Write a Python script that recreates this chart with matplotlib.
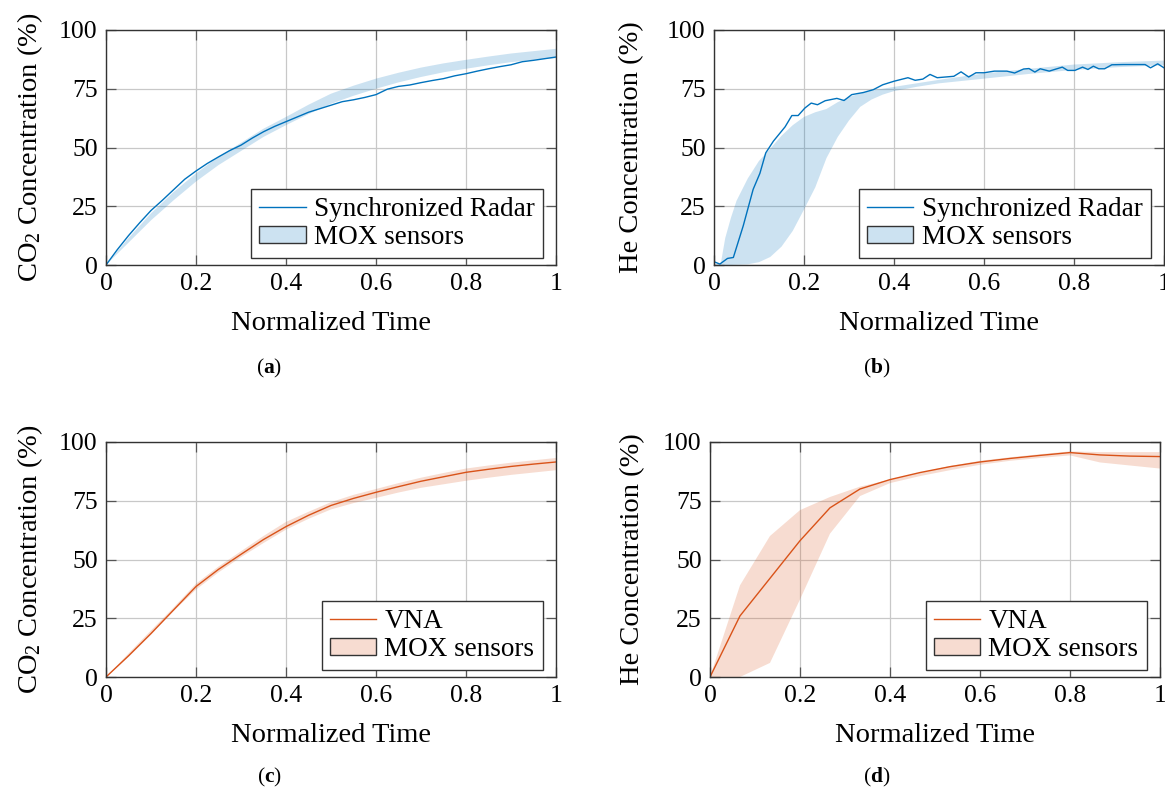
import matplotlib
matplotlib.use("Agg")
import matplotlib.pyplot as plt
from matplotlib.lines import Line2D
import numpy as np

plt.rcParams['font.family'] = ['Liberation Serif', 'DejaVu Serif']
plt.rcParams['mathtext.fontset'] = 'custom'
plt.rcParams['mathtext.rm'] = 'Liberation Serif'
plt.rcParams['mathtext.it'] = 'Liberation Serif:italic'
plt.rcParams['mathtext.bf'] = 'Liberation Serif:bold'

BLUE = '#0072BD'
ORANGE = '#D95319'

# ---- (a) CO2, synchronized radar ----
t_radar_co2 = np.arange(0, 1.0001, 0.025)
radar_co2 = [0, 6.5, 12.5, 18, 23.2, 27.5, 32, 36.5, 40, 43.2, 46, 48.7, 51,
             54, 56.7, 59, 61, 63, 65, 66.5, 68, 69.5, 70.3, 71.3, 72.5, 74.8,
             76, 76.6, 77.6, 78.5, 79.3, 80.5, 81.4, 82.5, 83.5, 84.4, 85.2,
             86.5, 87.1, 87.8, 88.5]
t_mox_co2_a = np.arange(0, 1.0001, 0.05)
mox_co2_a_lo = [0, 9.5, 19, 27.5, 35.5, 42.5, 48.5, 54.5, 59.5, 64.2, 68.6,
                72, 75, 77.7, 80, 82, 83.5, 85, 86.3, 87.3, 88]
mox_co2_a_hi = [0, 11.5, 22, 31, 39, 46, 52, 58, 63, 68.2, 72.9, 76.3, 79.3,
                81.8, 84, 85.8, 87.3, 88.7, 90, 91, 92]

# ---- (b) He, synchronized radar ----
t_radar_he = [0, 0.013, 0.03, 0.043, 0.065, 0.087, 0.102, 0.115, 0.132, 0.158,
              0.173, 0.187, 0.202, 0.216, 0.23, 0.247, 0.273, 0.289, 0.306,
              0.332, 0.354, 0.375, 0.4, 0.431, 0.447, 0.464, 0.48, 0.496,
              0.533, 0.549, 0.566, 0.582, 0.6, 0.623, 0.651, 0.668, 0.688,
              0.7, 0.713, 0.725, 0.745, 0.762, 0.774, 0.786, 0.802, 0.819,
              0.831, 0.843, 0.855, 0.868, 0.884, 0.909, 0.958, 0.97, 0.986, 1.0]
radar_he = [1.4, 0.4, 2.8, 3.2, 16.7, 32.2, 39, 47.7, 52.7, 58.8, 63.6, 63.6,
            66.8, 68.9, 68.2, 69.9, 70.9, 70, 72.5, 73.4, 74.6, 76.7, 78.2,
            79.7, 78.6, 79.1, 81.1, 79.7, 80.3, 82.2, 80, 81.8, 81.8, 82.5,
            82.5, 81.7, 83.4, 83.6, 82.1, 83.5, 82.5, 83.5, 84.2, 82.8, 82.8,
            84.2, 83.2, 84.6, 83.5, 83.5, 85.2, 85.3, 85.3, 83.9, 85.6, 83.9]
t_mox_he_b = [0, 0.015, 0.025, 0.0375, 0.05, 0.075, 0.1, 0.125, 0.15, 0.175,
              0.2, 0.225, 0.25, 0.275, 0.3, 0.325, 0.35, 0.375, 0.4, 0.45,
              0.5, 0.6, 0.7, 0.8, 0.9, 1.0]
mox_he_b_lo = [0, 0, 0, 0, 0.1, 0.3, 1.2, 3.4, 7.8, 14.5, 23.6, 33, 45.5,
               54.5, 61.5, 67.3, 70.4, 72.5, 74, 75.8, 77.3, 79.3, 81.3, 83,
               84.2, 85]
mox_he_b_hi = [0, 0.5, 11.5, 20, 27.3, 36.8, 44.3, 49.5, 55, 59.5, 63, 65,
               66.4, 69.3, 71.5, 73, 74.2, 75, 75.8, 77.3, 78.8, 81.5, 83.5,
               85.3, 86.3, 87]

# ---- (c) CO2, VNA ----
t_vna_co2 = np.arange(0, 1.0001, 0.05)
vna_co2 = [0, 9, 18.5, 28.5, 38.5, 45.8, 52.2, 58.5, 64, 68.8, 73, 76, 78.6,
           81, 83.3, 85.2, 87.1, 88.4, 89.6, 90.6, 91.5]
mox_co2_c_lo = [0, 8.5, 18, 28, 37.2, 44.5, 51, 57, 62.7, 67.3, 71.3, 74,
                76.2, 78.5, 80.5, 82, 83.5, 84.8, 86, 87, 88]
mox_co2_c_hi = [0, 10, 19.8, 29.5, 39.7, 47, 53.5, 60, 66, 70.3, 74.4, 77.5,
                80, 82.5, 84.8, 86.8, 88.7, 90, 91.2, 92.2, 93.2]

# ---- (d) He, VNA ----
t_vna_he = np.linspace(0, 1, 16)
vna_he = [0, 26, 42, 58, 72, 80, 84, 87, 89.5, 91.5, 93, 94.3, 95.5, 94.5,
          94, 93.8]
mox_he_d_lo = [0, 0, 6, 33, 61, 77, 82.5, 85.5, 88, 90.3, 92, 93.2, 94.3,
               91.3, 90, 88.7]
mox_he_d_hi = [0, 39, 60, 71, 76.6, 81, 84, 87, 89.8, 92, 93.5, 94.8, 96,
               95.7, 95.7, 95.7]

x_ticks = [0, 0.2, 0.4, 0.6, 0.8, 1]
x_ticklabels = ['0', '0.2', '0.4', '0.6', '0.8', '1']
y_ticks = [0, 25, 50, 75, 100]

FS_TICK = 18.5
FS_LABEL = 20.5
FS_LEG = 19.5
W, H = 1165, 792


def style_axes(ax, ylabel, ylab_x):
    ax.set_xlim(0, 1)
    ax.set_ylim(0, 100)
    ax.set_xticks(x_ticks)
    ax.set_xticklabels(x_ticklabels)
    ax.set_yticks(y_ticks)
    ax.grid(True, color='#c8c8c8', linewidth=0.9)
    ax.set_axisbelow(True)
    ax.tick_params(direction='in', length=7, width=0.9, color='#555555',
                   top=True, right=True, labelsize=FS_TICK, pad=6)
    for s in ax.spines.values():
        s.set_color('#333333')
        s.set_linewidth(1.0)
    ax.set_xlabel('Normalized Time', fontsize=FS_LABEL, va='center')
    ax.xaxis.set_label_coords(0.5, -58 / 235)
    ax.set_ylabel(ylabel, fontsize=FS_LABEL, va='center')
    ax.yaxis.set_label_coords(ylab_x, 0.5)
    leg = ax.legend(loc='lower right', bbox_to_anchor=(0.97, 0.03),
                    borderaxespad=0, fancybox=False, framealpha=1,
                    edgecolor='#333333', fontsize=FS_LEG, handlelength=1.7,
                    handleheight=0.6, handletextpad=0.3, borderpad=0.3,
                    labelspacing=0.1)
    leg.get_frame().set_linewidth(1.0)
    for h in leg.legend_handles:
        if not isinstance(h, Line2D):
            h.set_edgecolor('#333333')
            h.set_linewidth(1.0)


def band(ax, x, lo, hi, color):
    ax.fill_between(x, lo, hi, facecolor=color, alpha=0.2, linewidth=0,
                    edgecolor='none', label='MOX sensors')


fig = plt.figure(figsize=(W / 100, H / 100), dpi=100)

ax_a = fig.add_axes([106 / W, 1 - 265 / H, 450 / W, 235 / H])
ax_b = fig.add_axes([714 / W, 1 - 265 / H, 450 / W, 235 / H])
ax_c = fig.add_axes([106 / W, 1 - 677 / H, 450 / W, 235 / H])
ax_d = fig.add_axes([710 / W, 1 - 677 / H, 450 / W, 235 / H])

ax_a.plot(t_radar_co2, radar_co2, color=BLUE, lw=1.0, label='Synchronized Radar')
band(ax_a, t_mox_co2_a, mox_co2_a_lo, mox_co2_a_hi, BLUE)
style_axes(ax_a, r'CO$_2$ Concentration (%)', -0.169)

ax_b.plot(t_radar_he, radar_he, color=BLUE, lw=1.0, label='Synchronized Radar')
band(ax_b, t_mox_he_b, mox_he_b_lo, mox_he_b_hi, BLUE)
style_axes(ax_b, 'He Concentration (%)', -0.182)

ax_c.plot(t_vna_co2, vna_co2, color=ORANGE, lw=1.0, label='VNA')
band(ax_c, t_vna_co2, mox_co2_c_lo, mox_co2_c_hi, ORANGE)
style_axes(ax_c, r'CO$_2$ Concentration (%)', -0.169)

ax_d.plot(t_vna_he, vna_he, color=ORANGE, lw=1.0, label='VNA')
band(ax_d, t_vna_he, mox_he_d_lo, mox_he_d_hi, ORANGE)
style_axes(ax_d, 'He Concentration (%)', -0.173)

# sub-figure captions
for tag, x, y in (('a', 269, 368), ('b', 877, 368), ('c', 269, 777), ('d', 877, 777)):
    fig.text(x / W, 1 - y / H, '(' + r'$\mathbf{' + tag + '}$' + ')',
             ha='center', va='center', fontsize=15.5)

fig.savefig('out.png', dpi=100)
